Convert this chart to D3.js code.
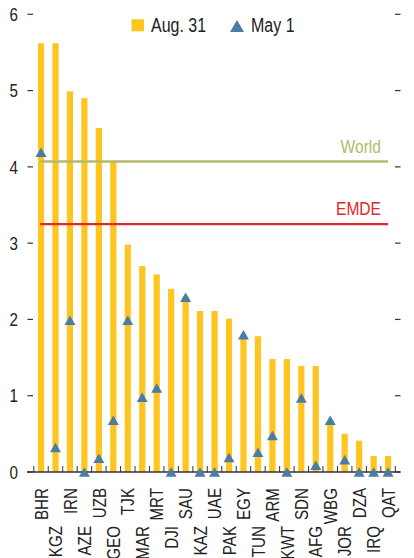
<!DOCTYPE html>
<html><head><meta charset="utf-8">
<script src="https://cdn.jsdelivr.net/npm/d3@7"></script>
<style>
html,body{margin:0;padding:0;background:#fff;}
svg{display:block;font-family:"Liberation Sans Narrow","Arial Narrow","Liberation Sans",Arial,sans-serif;}
</style></head>
<body>
<svg id="c" width="414" height="558"></svg>
<script>
const categories = ["BHR","KGZ","IRN","AZE","UZB","GEO","TJK","MAR","MRT","DJI","SAU","KAZ","UAE","PAK","EGY","TUN","ARM","KWT","SDN","AFG","WBG","JOR","DZA","IRQ","QAT"];
const aug31 = [5.62,5.62,4.99,4.90,4.51,4.07,2.98,2.70,2.59,2.40,2.30,2.11,2.11,2.01,1.78,1.78,1.48,1.48,1.39,1.39,0.62,0.50,0.41,0.21,0.21];
const may1  = [4.19,0.32,1.99,0.00,0.18,0.68,1.99,0.98,1.10,0.00,2.29,0.00,0.00,0.19,1.80,0.26,0.48,0.00,0.97,0.09,0.68,0.16,0.00,0.00,0.00];
const yTicks = [0,1,2,3,4,5,6];
const refLines = [{name:"World", value:4.07, color:"#b7b96c"},{name:"EMDE", value:3.25, color:"#e3282d"}];
const legendItems = [{name:"Aug. 31", type:"bar"},{name:"May 1", type:"tri"}];

const barColor = "#fec41f", triColor = "#4a7ca6";
const SX = 0.82; // horizontal condensation for a narrow face
const svg = d3.select("#c");
const x = d3.scaleBand().domain(categories).range([33.8, 395.3]).paddingInner(0).paddingOuter(0);
const y = d3.scaleLinear().domain([0,6]).range([472, 14.3]);
const cx = c => x(c) + x.bandwidth()/2;

function ntext(parent, tx, ty, str, opts) {
  const g = parent.append("g").attr("transform", `translate(${tx},${ty})${opts.rot?` rotate(${opts.rot})`:""} scale(${SX},1)`);
  const t = g.append("text").attr("x",0).attr("y",0).attr("font-size",opts.size).attr("fill",opts.fill||"#222")
    .attr("text-anchor",opts.anchor||"start").text(str);
  if (opts.dy) t.attr("dy",opts.dy);
  return t;
}

// y ticks left and right
const yg = svg.append("g");
yTicks.forEach(t => {
  yg.append("line").attr("x1",27.5).attr("x2",33).attr("y1",y(t)).attr("y2",y(t)).attr("stroke","#333").attr("stroke-width",1.2);
  yg.append("line").attr("x1",395).attr("x2",400.5).attr("y1",y(t)).attr("y2",y(t)).attr("stroke","#333").attr("stroke-width",1.2);
  ntext(yg, 18, y(t), t, {size:18.5, anchor:"end", dy:"0.36em"});
});

// bars
svg.append("g").selectAll("rect").data(categories).join("rect")
  .attr("x", (c)=>cx(c)-3.1).attr("width",6.2)
  .attr("y",(c,i)=>y(aug31[i])).attr("height",(c,i)=>y(0)-y(aug31[i]))
  .attr("fill",barColor);

// reference lines
refLines.forEach(r => {
  svg.append("line").attr("x1",cx(categories[0])-1).attr("x2",cx(categories[categories.length-1]))
    .attr("y1",y(r.value)).attr("y2",y(r.value)).attr("stroke",r.color).attr("stroke-width",2.4);
  ntext(svg, 381, y(r.value)-9, r.name, {size:19, anchor:"end", fill:r.color});
});

// x axis
svg.append("line").attr("x1",27).attr("x2",400.5).attr("y1",472).attr("y2",472).attr("stroke","#333").attr("stroke-width",1.3);
const bounds = categories.map(c=>x(c)).concat([x.range()[1]]);
svg.append("g").selectAll("line").data(bounds).join("line")
  .attr("x1",d=>d).attr("x2",d=>d).attr("y1",466).attr("y2",472).attr("stroke","#333").attr("stroke-width",1);

// triangles
const tri = (w,h) => `M0,${-h/2}L${w/2},${h/2}L${-w/2},${h/2}Z`;
svg.append("g").selectAll("path").data(categories).join("path")
  .attr("d", tri(11,9.5))
  .attr("transform",(c,i)=>`translate(${cx(c)},${y(may1[i])})`)
  .attr("fill",triColor);

// x labels
const xl = svg.append("g");
categories.forEach((c,i) => {
  ntext(xl, cx(c), i%2===0?488:526, c, {size:18.5, anchor:"end", dy:"0.36em", rot:-90});
});

// legend
const lg = svg.append("g");
lg.append("rect").attr("x",131.5).attr("y",19.3).attr("width",12.5).attr("height",12).attr("fill",barColor);
ntext(lg, 151, 32, legendItems[0].name, {size:19.5});
lg.append("path").attr("d",tri(14,12)).attr("transform","translate(237,26)").attr("fill",triColor);
ntext(lg, 251, 32, legendItems[1].name, {size:19.5});
</script>
</body></html>
